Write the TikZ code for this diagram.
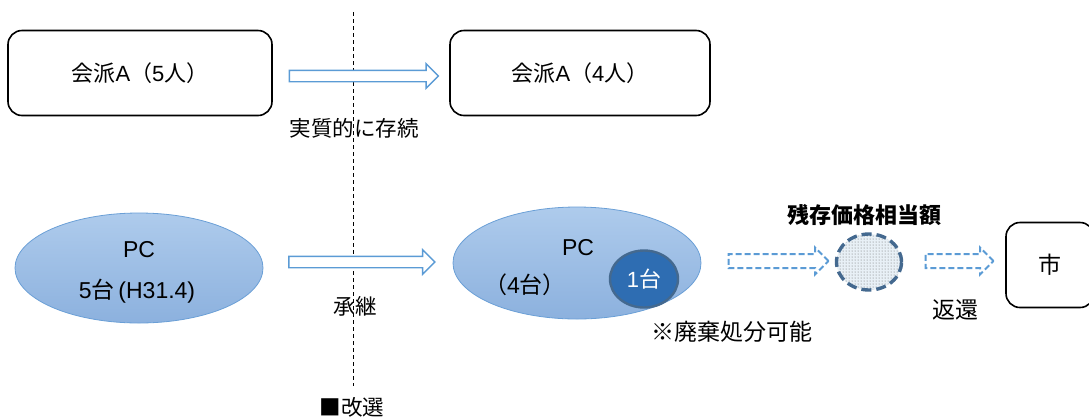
\documentclass[tikz,border=0pt]{standalone}
\usepackage{fontspec}
\setmainfont{Noto Sans CJK JP}
\newfontfamily\latinfont{Liberation Sans}
\usetikzlibrary{shapes.geometric,shapes.arrows,patterns}

\definecolor{arrowblue}{HTML}{5B9BD5}
\definecolor{pctop}{HTML}{AECBEC}
\definecolor{pcbottom}{HTML}{8CB1DE}
\definecolor{pcedge}{HTML}{6A9FD6}
\definecolor{unitfill}{HTML}{2E6DB2}
\definecolor{unitedge}{HTML}{44698F}
\definecolor{valuefill}{HTML}{E8F0F6}

\newcommand{\lat}[1]{{\latinfont #1}}

\begin{document}
\begin{tikzpicture}[x=1pt,y=-1pt,
  partybox/.style={draw,line width=1.6pt,rounded corners=14pt,minimum width=264,minimum height=85,font=\fontsize{22}{26}\selectfont},
  pcell/.style={ellipse,draw=pcedge,line width=0.8pt,top color=pctop,bottom color=pcbottom},
  blockarrow/.style={single arrow,draw=arrowblue,line width=1.4pt,fill=white,inner sep=5pt,single arrow head extend=6.5pt,minimum height=#1},
  dasharrow/.style={single arrow,draw=arrowblue,line width=2pt,dashed,dash pattern=on 6pt off 3pt,inner sep=6pt,single arrow head extend=6.5pt,minimum height=#1},
  lbl/.style={font=\fontsize{21.5}{25}\selectfont},
  pctxt/.style={font=\fontsize{23}{27}\selectfont}]
\useasboundingbox (0,0) rectangle (1089,416);
% election divider
\draw[dashed,dash pattern=on 4pt off 3pt,line width=0.9pt] (353,12) -- (353,386);
\node[lbl] (vote) at (352,407) {■改選};
% parties
\node[partybox] (partyold) at (140,73) {会派\lat{A}（\lat{5}人）};
\node[partybox,minimum width=260] (partynew) at (580,73) {会派\lat{A}（\lat{4}人）};
\node[blockarrow=149] (keep) at (361,76) {};
\node[lbl] (keeptxt) at (354,128) {実質的に存続};
% pcs
\node[pcell,minimum width=248,minimum height=110] (pcold) at (139,268) {};
\node[pctxt] at (139,250) {\lat{PC}};
\node[pctxt] at (137,291) {\lat{5}台\lat{\,(H31.4)}};
\node[blockarrow=146] (inherit) at (359,262) {};
\node[lbl] (inherittxt) at (355,306) {承継};
\node[pcell,minimum width=248,minimum height=112] (pcnew) at (577,263) {};
\node[pctxt] at (578,248) {\lat{PC}};
\node[pctxt] at (525,285) {（\lat{4}台）};
\node[ellipse,draw=unitedge,line width=2.4pt,fill=unitfill,minimum width=68,minimum height=57,text=white,font=\fontsize{22}{26}\selectfont] (unit) at (644,279) {\lat{1}台};
\node[anchor=west,font=\fontsize{23}{27}\selectfont] (dispose) at (648,332) {※廃棄処分可能};
% residual value
\node[dasharrow=100] (sell) at (775,261) {};
\node[ellipse,draw=unitedge,line width=3.4pt,dashed,dash pattern=on 10pt off 5pt,minimum width=65,minimum height=56,preaction={fill=valuefill},pattern=dots,pattern color=gray!80!black] (value) at (869,262) {};
\node[font=\bfseries\fontsize{22}{26}\selectfont] (valuetxt) at (864,215) {残存価格相当額};
\node[dasharrow=68] (refund) at (956,261) {};
\node[lbl,font=\fontsize{23}{27}\selectfont] (refundtxt) at (955,310) {返還};
% city
\node[draw,line width=1.6pt,rounded corners=14pt,minimum width=88,minimum height=85,font=\fontsize{23}{27}\selectfont] (city) at (1050,265) {市};
\end{tikzpicture}
\end{document}
